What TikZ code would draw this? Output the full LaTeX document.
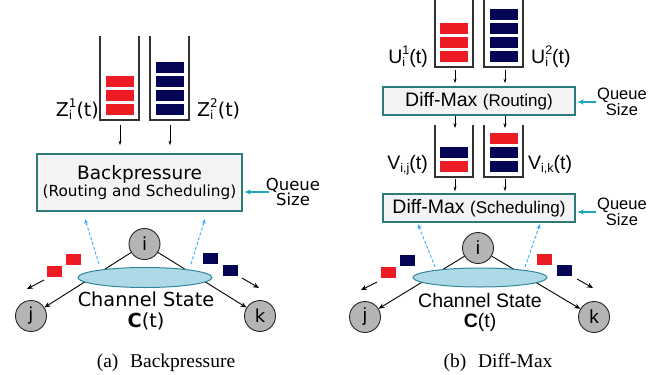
\documentclass[tikz,border=0pt]{standalone}
\usepackage{fontspec}
\setmainfont{Liberation Serif}
\newfontfamily\vfont{DejaVu Sans}
\newfontfamily\afont{Liberation Sans}
\usetikzlibrary{arrows.meta,shapes.geometric}
\definecolor{qred}{RGB}{237,28,36}
\definecolor{qblue}{RGB}{5,5,85}
\definecolor{wallc}{RGB}{50,50,50}
\definecolor{boxc}{RGB}{45,122,122}
\definecolor{boxfill}{RGB}{243,243,243}
\definecolor{qsc}{RGB}{25,168,190}
\definecolor{nodegray}{RGB}{180,180,180}
\definecolor{chanfill}{RGB}{173,218,230}
\definecolor{chanborder}{RGB}{50,135,160}
\definecolor{probec}{RGB}{50,170,250}
\newcommand\fs[1]{\fontsize{#1}{#1}\selectfont}
% #1 script size, #2 superscript, #3 subscript
\newcommand\supsub[3]{\begingroup
  \setbox0=\hbox{\raisebox{0.45em}{\fs{#1}#2}}%
  \setbox2=\hbox{\raisebox{-0.2em}{\fs{#1}#3}}%
  \ifdim\wd0>\wd2 \dimen0=\wd0 \else\dimen0=\wd2 \fi
  \rlap{\box0}\rlap{\box2}\hspace{\dimen0}\endgroup}
\newcommand\subsc[2]{\raisebox{-0.2em}{\fs{#1}#2}}
\begin{document}
\begin{tikzpicture}[x=1pt,y=-1pt,
  wall/.style={draw=wallc,line width=1.1pt},
  redbar/.style={fill=qred},
  bluebar/.style={fill=qblue},
  flow/.style={-{Stealth[length=4.5pt,width=3pt]},line width=0.6pt},
  procbox/.style={draw=boxc,line width=1.6pt,fill=boxfill,inner sep=0pt,align=center},
  qsarrow/.style={-{Stealth[length=6pt,width=5pt]},draw=qsc,line width=1.1pt},
  netnode/.style={circle,draw=black!85,fill=nodegray,line width=0.9pt,minimum size=31pt,inner sep=0pt},
  chan/.style={ellipse,draw=chanborder,fill=chanfill,line width=1pt,minimum width=134pt,minimum height=20pt,inner sep=0pt},
  probe/.style={dashed,dash pattern=on 3pt off 2pt,draw=probec,line width=0.9pt,-{Stealth[length=5pt,width=4pt]}},
  link/.style={line width=0.9pt,-{Stealth[length=6pt,width=5pt]}},
  pkt/.style={line width=0.9pt,-{Stealth[length=6pt,width=5pt]}},
  qslabel/.style={align=center,inner sep=0pt}
]
\useasboundingbox (0,0) rectangle (670,375);

%================ LEFT PANEL =================
\draw[wall] (100,36) -- (100,120) -- (139,120) -- (139,36);
\draw[wall] (150,36) -- (150,120) -- (189,120) -- (189,36);
\foreach \t in {76,90,104} \fill[redbar] (106,\t) rectangle (134,\t+11);
\foreach \t in {62,76,90,104} \fill[bluebar] (156,\t) rectangle (184,\t+11);
\coordinate (lq1) at (120,120);
\coordinate (lq2) at (170,120);
\node[anchor=base east,inner sep=0pt,font=\vfont\fs{19}] (z1) at (99,116) {Z\supsub{12}{1}{i}(t)};
\node[anchor=base west,inner sep=0pt,font=\vfont\fs{19}] (z2) at (197,116) {Z\supsub{12}{2}{i}(t)};

\node[procbox,minimum width=205pt,minimum height=57pt] (bp) at (139.5,182.5)
  {{\vfont\fs{18.5}Backpressure}\\[1pt]{\vfont\fs{15.3}(Routing and Scheduling)}};
\draw[flow,shorten <=5pt,shorten >=8pt] (lq1) -- (lq1 |- bp.north);
\draw[flow,shorten <=5pt,shorten >=8pt] (lq2) -- (lq2 |- bp.north);

\node[qslabel,font=\vfont\fs{16.5}] (qs1) at (293,192) {Queue\\[-1pt]Size};
\draw[qsarrow,shorten >=2pt] ([xshift=3pt]qs1.west) -- (qs1.west -| bp.east);

\node[netnode,font=\vfont\fs{18}] (li) at (144.5,244) {i};
\node[netnode,font=\vfont\fs{18}] (lj) at (31,316) {j};
\node[netnode,font=\vfont\fs{18}] (lk) at (260,316) {k};
\draw[link] (li) -- (lj);
\draw[link] (li) -- (lk);
\node[chan] (lc) at (145,277.5) {};
\node[anchor=base,inner sep=0pt,font=\vfont\fs{19.3}] (lcs) at (146,306) {Channel State};
\node[anchor=base,inner sep=0pt,font=\vfont\fs{19.3}] (lct) at (146,327) {\textbf{C}(t)};

\coordinate (lp1s) at (99,264);
\coordinate (lp1e) at (85,219);
\coordinate (lp2s) at (191,264);
\coordinate (lp2e) at (205,219);
\draw[probe] (lp1s) -- (lp1e);
\draw[probe] (lp2s) -- (lp2e);

\fill[redbar] (47,266) rectangle (62,277);
\fill[redbar] (66,254) rectangle (81,265);
\fill[bluebar] (203,253) rectangle (218,264);
\fill[bluebar] (223,265) rectangle (238,276);
\coordinate (la1s) at (44,280);
\coordinate (la1e) at (27,289);
\coordinate (la2s) at (242,278);
\coordinate (la2e) at (259,288);
\draw[pkt] (la1s) -- (la1e);
\draw[pkt] (la2s) -- (la2e);

\node[anchor=base,inner sep=0pt,font=\fs{19.5}] (capa) at (166,367) {(a)\hspace{0.6em}Backpressure};

%================ RIGHT PANEL =================
\draw[wall] (435,-2) -- (435,67) -- (473,67) -- (473,-2);
\draw[wall] (484,-2) -- (484,67) -- (523,67) -- (523,-2);
\foreach \t in {23,37,51} \fill[redbar] (440,\t) rectangle (468,\t+11);
\foreach \t in {9,23,37,51} \fill[bluebar] (490,\t) rectangle (518,\t+11);
\coordinate (ru1) at (455,67);
\coordinate (ru2) at (505,67);
\node[anchor=base east,inner sep=0pt,font=\afont\fs{19.5}] (u1) at (428,63) {U\supsub{12.5}{1}{i}(t)};
\node[anchor=base west,inner sep=0pt,font=\afont\fs{19.5}] (u2) at (531,63) {U\supsub{12.5}{2}{i}(t)};

\node[procbox,minimum width=192pt,minimum height=28pt,font=\afont\fs{19.5}] (dm1) at (479,101)
  {Diff-Max {\fs{17}(Routing)}};
\draw[flow,shorten <=3pt,shorten >=3pt] (ru1) -- (ru1 |- dm1.north);
\draw[flow,shorten <=3pt,shorten >=3pt] (ru2) -- (ru2 |- dm1.north);
\node[qslabel,font=\afont\fs{16.5}] (qs2) at (622,102) {Queue\\[-1pt]Size};
\draw[qsarrow,shorten >=2pt] ([xshift=-1pt]qs2.west) -- (qs2.west -| dm1.east);

\draw[wall] (435,125) -- (435,177) -- (473,177) -- (473,125);
\draw[wall] (484,125) -- (484,177) -- (523,177) -- (523,125);
\fill[bluebar] (440,147) rectangle (468,158);
\fill[redbar] (440,161) rectangle (468,172);
\fill[redbar] (490,133) rectangle (518,144);
\fill[bluebar] (490,147) rectangle (518,158);
\fill[bluebar] (490,161) rectangle (518,172);
\coordinate (rv1t) at (455,125);
\coordinate (rv2t) at (505,125);
\coordinate (rv1) at (455,177);
\coordinate (rv2) at (505,177);
\draw[flow,shorten >=-3pt] (dm1.south -| rv1t) -- (rv1t);
\draw[flow,shorten >=-3pt] (dm1.south -| rv2t) -- (rv2t);
\node[anchor=base east,inner sep=0pt,font=\afont\fs{19.5}] (v1) at (428,169) {V\subsc{12.5}{i,j}(t)};
\node[anchor=base west,inner sep=0pt,font=\afont\fs{19.5}] (v2) at (528,169) {V\subsc{12.5}{i,k}(t)};

\node[procbox,minimum width=192pt,minimum height=28pt,font=\afont\fs{19.5}] (dm2) at (479,208)
  {Diff-Max {\fs{17}(Scheduling)}};
\draw[flow,shorten <=2pt,shorten >=2pt] (rv1) -- (rv1 |- dm2.north);
\draw[flow,shorten <=2pt,shorten >=2pt] (rv2) -- (rv2 |- dm2.north);
\node[qslabel,font=\afont\fs{16.5}] (qs3) at (622,212) {Queue\\[-1pt]Size};
\draw[qsarrow,shorten >=2pt] ([xshift=-1pt]qs3.west) -- (qs3.west -| dm2.east);

\node[netnode,font=\afont\fs{19}] (ri) at (478,248) {i};
\node[netnode,font=\afont\fs{19}] (rj) at (365,317) {j};
\node[netnode,font=\afont\fs{19}] (rk) at (594,317) {k};
\draw[link] (ri) -- (rj);
\draw[link] (ri) -- (rk);
\node[chan,minimum height=19pt] (rc) at (480,277.5) {};
\node[anchor=base,inner sep=0pt,font=\afont\fs{19.5}] (rcs) at (480,307) {Channel State};
\node[anchor=base,inner sep=0pt,font=\afont\fs{19.5}] (rct) at (480,327) {\textbf{C}(t)};

\coordinate (rp1s) at (435,267);
\coordinate (rp1e) at (418,224);
\coordinate (rp2s) at (525,267);
\coordinate (rp2e) at (540,224);
\draw[probe] (rp1s) -- (rp1e);
\draw[probe] (rp2s) -- (rp2e);

\fill[redbar] (381,267) rectangle (396,278);
\fill[bluebar] (400,255) rectangle (415,266);
\fill[redbar] (537,254) rectangle (552,265);
\fill[bluebar] (557,265) rectangle (572,276);
\coordinate (ra1s) at (377,282);
\coordinate (ra1e) at (361,290);
\coordinate (ra2s) at (577,279);
\coordinate (ra2e) at (593,288);
\draw[pkt] (ra1s) -- (ra1e);
\draw[pkt] (ra2s) -- (ra2e);

\node[anchor=base,inner sep=0pt,font=\fs{19.5}] (capb) at (498,367) {(b)\hspace{0.6em}Diff-Max};
\end{tikzpicture}
\end{document}
